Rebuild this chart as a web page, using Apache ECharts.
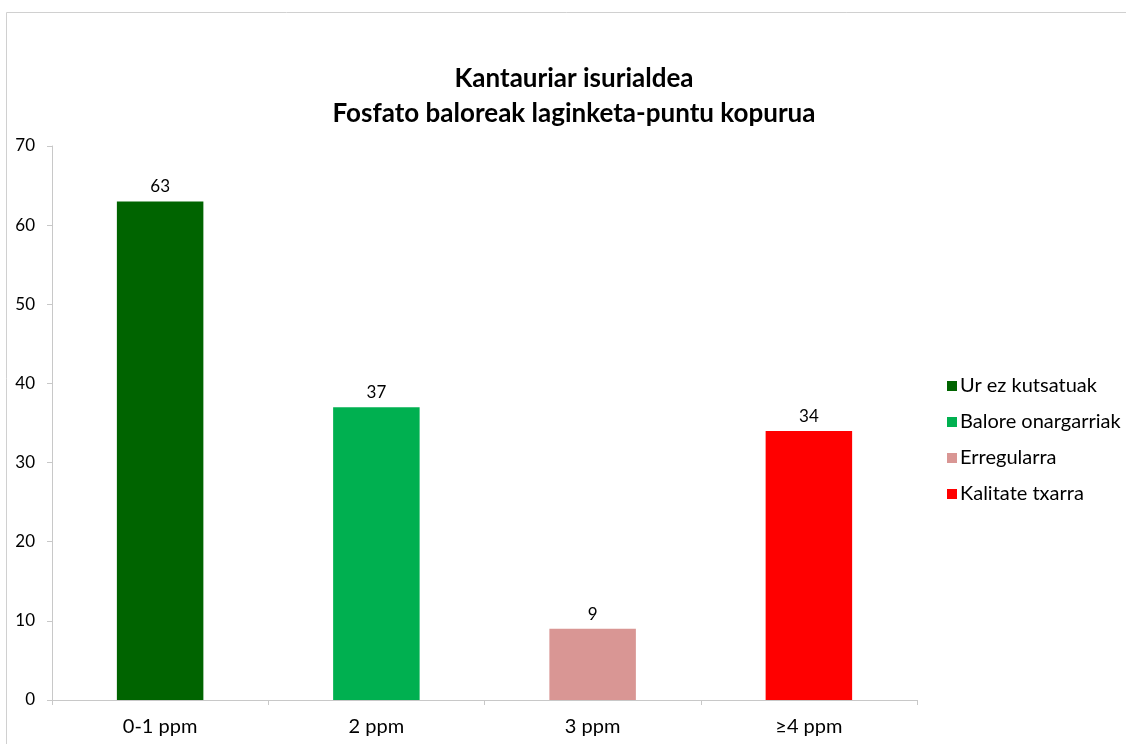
<!DOCTYPE html>
<html>
<head>
<meta charset="utf-8">
<script src="https://cdn.jsdelivr.net/npm/echarts@6/dist/echarts.min.js"></script>
<style>
  html, body { margin: 0; padding: 0; background: #fff; }
  #chart { width: 1126px; height: 744px; }
</style>
</head>
<body>
<div id="chart"></div>
<script>
const categories = ['0-1 ppm', '2 ppm', '3 ppm', '≥4 ppm']
const seriesNames = ['Ur ez kutsatuak', 'Balore onargarriak', 'Erregularra', 'Kalitate txarra']
const seriesColors = ['#006400', '#00B050', '#D99694', '#FF0000']
const values = [63, 37, 9, 34]

const font = 'Lato, "Open Sans", sans-serif'
const chart = echarts.init(document.getElementById('chart'))

// Excel style: each series only has its own category
const series = seriesNames.map((name, i) => ({
  name,
  type: 'bar',
  stack: 'all',
  barWidth: '40%',
  data: categories.map((c, j) => (j === i ? values[i] : '-')),
  itemStyle: { color: seriesColors[i] },
  label: {
    show: true,
    position: 'top',
    distance: 6,
    color: '#000',
    fontSize: 17,
    fontFamily: font,
  },
}))

chart.setOption({
  animation: false,
  backgroundColor: '#fff',
  graphic: [{
    type: 'rect',
    shape: { x: 6.5, y: 12.5, width: 1200, height: 800 },
    style: { fill: 'none', stroke: '#d0d0d0', lineWidth: 1 },
    silent: true,
  }],
  title: {
    text: 'Kantauriar isurialdea\nFosfato baloreak laginketa-puntu kopurua',
    left: 569,
    textAlign: 'center',
    top: 56,
    textStyle: {
      fontFamily: font,
      fontSize: 26,
      fontWeight: 'bold',
      color: '#000',
      lineHeight: 35,
    },
  },
  legend: {
    orient: 'vertical',
    left: 942,
    top: 371,
    icon: 'rect',
    itemWidth: 10,
    itemHeight: 10,
    itemGap: 16,
    data: seriesNames,
    textStyle: { fontFamily: font, fontSize: 20, color: '#000', padding: [0, 0, 0, -2] },
  },
  grid: { left: 52, right: 209, top: 146, bottom: 44 },
  xAxis: {
    type: 'category',
    data: categories,
    axisLine: { lineStyle: { color: '#c8c8c8' } },
    axisTick: { show: true, length: 5, lineStyle: { color: '#c8c8c8' } },
    axisLabel: { fontFamily: font, fontSize: 20, color: '#000', margin: 17 },
  },
  yAxis: {
    type: 'value',
    min: 0,
    max: 70,
    interval: 10,
    axisLine: { show: true, lineStyle: { color: '#c8c8c8' } },
    axisTick: { show: true, length: 5, lineStyle: { color: '#c8c8c8' } },
    splitLine: { show: false },
    axisLabel: { fontFamily: font, fontSize: 17, color: '#000', margin: 17 },
  },
  series,
})
</script>
</body>
</html>
